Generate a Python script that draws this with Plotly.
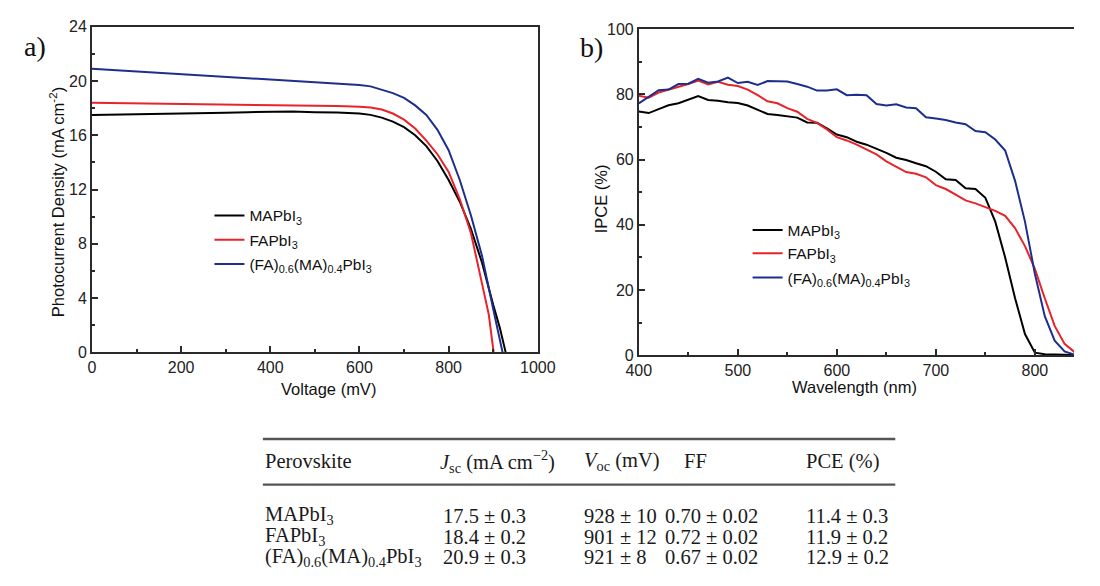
import plotly.graph_objects as go

# page is 1100 x 586; the browser keeps its default 8 px body margin,
# so the figure itself is 1084 x 570 and sits at (8, 8)
PAGE_W, PAGE_H = 1100, 586
OFF = 8
W, H = PAGE_W - 2 * OFF, PAGE_H - 2 * OFF

# ---------------- (a) J-V curves ----------------
v_mapbi3 = [0, 50, 100, 150, 200, 250, 300, 350, 400, 450, 500, 550, 600, 625, 650, 675,
            700, 725, 750, 775, 800, 825, 850, 875, 900, 915, 928]
j_mapbi3 = [17.5, 17.52, 17.55, 17.58, 17.6, 17.62, 17.65, 17.7, 17.72, 17.75, 17.7, 17.68,
            17.6, 17.5, 17.3, 17.0, 16.6, 16.0, 15.2, 14.1, 12.7, 11.1, 9.1, 6.6, 3.5, 1.8, 0.0]

v_fapbi3 = [0, 50, 100, 150, 200, 250, 300, 350, 400, 450, 500, 550, 600, 625, 650, 675,
            700, 725, 750, 775, 800, 825, 850, 875, 890, 901]
j_fapbi3 = [18.4, 18.38, 18.35, 18.33, 18.32, 18.3, 18.28, 18.25, 18.22, 18.2, 18.18, 18.15,
            18.1, 18.05, 17.9, 17.6, 17.15, 16.5, 15.6, 14.6, 13.3, 11.3, 8.8, 5.2, 2.8, 0.0]

v_mixed = [0, 50, 100, 150, 200, 250, 300, 350, 400, 450, 500, 550, 600, 625, 650, 675,
           700, 725, 750, 775, 800, 825, 850, 875, 900, 921]
j_mixed = [20.9, 20.8, 20.7, 20.6, 20.5, 20.4, 20.35, 20.25, 20.15, 20.05, 19.95, 19.85,
           19.7, 19.6, 19.35, 19.1, 18.75, 18.2, 17.5, 16.4, 14.9, 12.7, 10.1, 7.1, 3.2, 0.0]

# ---------------- (b) IPCE spectra ----------------
wavelength = [400, 410, 420, 430, 440, 450, 460, 470, 480, 490, 500, 510, 520, 530, 540, 550,
              560, 570, 580, 590, 600, 610, 620, 630, 640, 650, 660, 670, 680, 690, 700, 710,
              720, 730, 740, 750, 760, 770, 780, 790, 800, 810, 820, 830, 840, 850]
ipce_mapbi3 = [74.8, 74.3, 75.5, 76.7, 77.3, 78.5, 79.5, 78.3, 78.1, 77.6, 77.4, 76.6, 75.3, 74.0,
               73.7, 73.4, 72.9, 71.4, 71.3, 69.6, 67.7, 66.9, 65.5, 64.6, 63.4, 62.1, 60.6, 59.9,
               58.9, 58.0, 56.3, 54.0, 53.8, 51.2, 51.0, 48.3, 41.0, 30.0, 17.5, 6.5, 0.8, 0.3,
               0.2, 0.1, 0.0, 0.0]
ipce_fapbi3 = [79.6, 79.0, 80.6, 81.4, 82.2, 83.2, 84.3, 83.1, 83.9, 83.0, 82.6, 81.5, 79.8, 77.9,
               77.3, 75.8, 74.7, 72.5, 71.3, 69.3, 66.9, 65.9, 64.6, 63.2, 61.6, 59.5, 57.8, 56.2,
               55.7, 54.6, 52.2, 51.0, 49.3, 47.5, 46.6, 45.4, 44.3, 42.8, 39.0, 33.5, 26.5, 17.5,
               9.0, 3.5, 1.0, 0.0]
ipce_mixed = [77.3, 79.2, 81.3, 81.5, 83.2, 83.3, 84.8, 83.6, 84.0, 85.2, 83.5, 83.9, 82.9, 84.1,
              84.0, 84.0, 83.2, 82.4, 81.2, 81.2, 81.6, 79.8, 79.9, 79.8, 77.1, 76.6, 77.0, 76.0,
              75.8, 73.0, 72.6, 72.2, 71.4, 70.9, 68.8, 68.4, 66.2, 62.8, 53.5, 41.0, 25.0, 12.0,
              4.5, 1.2, 0.2, 0.0]

series_names = ["MAPbI<sub>3</sub>", "FAPbI<sub>3</sub>",
                "(FA)<sub>0.6</sub>(MA)<sub>0.4</sub>PbI<sub>3</sub>"]
series_colors = ["#000000", "#e8232a", "#1d2f8c"]

# ---------------- table ----------------
table_header = ["Perovskite", "<i>J</i><sub>sc</sub> (mA cm<sup>\u22122</sup>)",
                "<i>V</i><sub>oc</sub> (mV)", "FF", "PCE (%)"]
table_perovskite = ["MAPbI<sub>3</sub>", "FAPbI<sub>3</sub>",
                    "(FA)<sub>0.6</sub>(MA)<sub>0.4</sub>PbI<sub>3</sub>"]
table_jsc = ["17.5 \u00b1 0.3", "18.4 \u00b1 0.2", "20.9 \u00b1 0.3"]
table_voc = ["928 \u00b1 10", "901 \u00b1 12", "921 \u00b1 8"]
table_ff = ["0.70 \u00b1 0.02", "0.72 \u00b1 0.02", "0.67 \u00b1 0.02"]
table_pce = ["11.4 \u00b1 0.3", "11.9 \u00b1 0.2", "12.9 \u00b1 0.2"]


def px(x):
    """page pixel x -> paper fraction"""
    return (x - OFF) / W


def py(y):
    """page pixel y -> paper fraction"""
    return 1 - (y - OFF) / H


SANS = "Liberation Sans, Arial, sans-serif"
SERIF = "Liberation Serif, Times New Roman, serif"
AX = "#2a2a2a"

fig = go.Figure()

jv = [(v_mapbi3, j_mapbi3), (v_fapbi3, j_fapbi3), (v_mixed, j_mixed)]
for i, (v, j) in enumerate(jv):
    fig.add_trace(go.Scatter(x=v, y=j, mode="lines", name=series_names[i],
                             line=dict(color=series_colors[i], width=2),
                             xaxis="x", yaxis="y", legend="legend" if i == 0 else f"legend{i + 1}"))

ipce = [ipce_mapbi3, ipce_fapbi3, ipce_mixed]
for i, s in enumerate(ipce):
    fig.add_trace(go.Scatter(x=wavelength, y=s, mode="lines", name=series_names[i],
                             line=dict(color=series_colors[i], width=2),
                             xaxis="x2", yaxis="y2", legend=f"legend{i + 4}"))


def axis_style(dtick, mdtick, rng, domain, anchor, mirror=True):
    return dict(range=rng, domain=domain, anchor=anchor, dtick=dtick, tick0=0,
                ticks="inside", ticklen=6, tickwidth=1.5, tickcolor=AX,
                minor=dict(ticks="inside", ticklen=3.5, tickwidth=1.5, tickcolor=AX, dtick=mdtick),
                showline=True, linecolor=AX, linewidth=1.8, mirror=mirror,
                showgrid=False, zeroline=False,
                tickfont=dict(family=SANS, size=16, color="#222"))


leg = dict(bgcolor="rgba(0,0,0,0)", font=dict(family=SANS, size=15.5, color="#111"),
           xanchor="left", yanchor="middle", xref="paper", yref="paper",
           itemwidth=30, borderwidth=0)
legend_pos = [(207, 214), (207, 239), (207, 264), (761, 229), (761, 253), (761, 278)]
legends = {}
for k, (lx, ly) in enumerate(legend_pos):
    key = "legend" if k == 0 else f"legend{k + 1}"
    legends[key] = dict(leg, x=px(lx - 5), y=py(ly))

# right panel is cut by the page edge: keep the reference's nm-per-pixel scale
right_x0, px_per_nm = 644, 1.0193
right_x1 = OFF + W
fig.update_layout(
    width=W, height=H, autosize=False,
    margin=dict(l=0, r=0, t=0, b=0),
    paper_bgcolor="white", plot_bgcolor="white",
    showlegend=True,
    xaxis=axis_style(200, 100, [0, 1000], [px(81), px(540)], "y"),
    yaxis=axis_style(4, 2, [0, 24], [py(354.7), py(19)], "x"),
    xaxis2=axis_style(100, 50, [400, 400 + (right_x1 - right_x0) / px_per_nm],
                      [px(right_x0), 1.0], "y2"),
    yaxis2=axis_style(20, 10, [0, 100], [py(357.7), py(21.7)], "x2", mirror=False),
    **legends,
)

# panel labels and axis titles
ann = [
    dict(text="a)", x=px(22), y=py(39), font=dict(family=SERIF, size=28, color="#111")),
    dict(text="b)", x=px(595), y=py(40), font=dict(family=SERIF, size=28, color="#111")),
    dict(text="Voltage (mV)", x=px(325), y=py(392), font=dict(family=SANS, size=16.5, color="#111")),
    dict(text="Wavelength (nm)", x=px(866), y=py(390), font=dict(family=SANS, size=16.5, color="#111")),
    dict(text="Photocurrent Density (mA cm<sup>-2</sup>)", x=px(45), y=py(200), textangle=-90,
         font=dict(family=SANS, size=16.5, color="#111")),
    dict(text="IPCE (%)", x=px(605), y=py(196), textangle=-90,
         font=dict(family=SANS, size=16.5, color="#111")),
]
for a in ann:
    fig.add_annotation(xref="paper", yref="paper", showarrow=False,
                       xanchor="center", yanchor="middle", **a)

# table
col_x = [257, 440, 586, 669, 814]
hx = [257, 437, 586, 688, 814]
header_y = 467
row_y = [523, 545, 566]
tfont = dict(family=SERIF, size=20.5, color="#1a1a1a")
for c, t in enumerate(table_header):
    fig.add_annotation(xref="paper", yref="paper", showarrow=False, xanchor="left", yanchor="middle",
                       x=px(hx[c]), y=py(header_y), text=t, font=tfont)
cols = [table_perovskite, table_jsc, table_voc, table_ff, table_pce]
for c, col in enumerate(cols):
    for r, t in enumerate(col):
        fig.add_annotation(xref="paper", yref="paper", showarrow=False, xanchor="left",
                           yanchor="middle", x=px(col_x[c]), y=py(row_y[r]), text=t, font=tfont)
for ly in (444, 491):
    fig.add_shape(type="line", xref="paper", yref="paper", x0=px(257), x1=px(908),
                  y0=py(ly), y1=py(ly), line=dict(color="#555", width=2.4))

fig.write_html("out.html", config={"displayModeBar": False})
